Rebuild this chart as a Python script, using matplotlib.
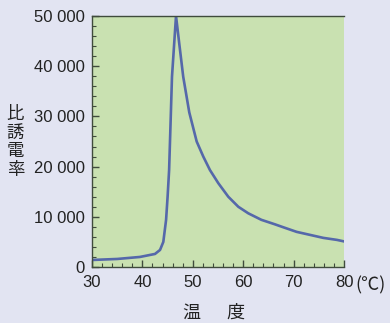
import matplotlib.pyplot as plt
from matplotlib.ticker import MultipleLocator, FuncFormatter

# temperature (deg C) vs relative permittivity
temp = [30, 35, 39.5, 42.5, 43.5, 44.15, 44.7, 45.0, 45.3, 45.87, 46.67, 47.3,
        48.1, 49.3, 50.77, 52.08, 53.41, 55.06, 57.04, 59.03, 61.0, 63.6, 66.3,
        68.0, 70.6, 73.25, 75.9, 78.6, 80]
eps = [1400, 1600, 2000, 2600, 3400, 5000, 9400, 14000, 19300, 37900, 50000, 44600,
       37900, 30800, 25000, 22000, 19300, 16700, 14000, 12000, 10700, 9400, 8500,
       7900, 7000, 6400, 5800, 5400, 5100]

bg = "#e2e4f2"
green = "#c9e1b1"
line_col = "#5568aa"
spine_col = "#3f4b3c"

plt.rcParams['font.family'] = ['Liberation Sans', 'Noto Sans CJK JP', 'DejaVu Sans']

fig = plt.figure(figsize=(3.9, 3.23), dpi=100, facecolor=bg)
ax = fig.add_axes([92/390, 1 - 267/323, 252/390, 251/323])
ax.set_facecolor(green)

ax.plot(temp, eps, color=line_col, lw=1.9, solid_joinstyle='round')

ax.set_xlim(30, 80)
ax.set_ylim(0, 50000)
ax.xaxis.set_major_locator(MultipleLocator(10))
ax.xaxis.set_minor_locator(MultipleLocator(2))
ax.yaxis.set_major_locator(MultipleLocator(10000))
ax.yaxis.set_minor_locator(MultipleLocator(2000))
ax.yaxis.set_major_formatter(FuncFormatter(lambda v, p: f"{int(v):,}".replace(",", " ")))

ax.tick_params(which='both', direction='in', color=spine_col, labelsize=12, labelcolor='#222222')
ax.tick_params(which='major', length=5, width=1)
ax.tick_params(which='minor', length=3, width=0.8)
ax.tick_params(axis='x', pad=6)
ax.tick_params(axis='y', pad=5)

for s in ['left', 'bottom', 'top']:
    ax.spines[s].set_color(spine_col)
    ax.spines[s].set_linewidth(1)
ax.spines['right'].set_visible(False)

cjk = ['Noto Sans CJK JP', 'DejaVu Sans']
fig.text(15.5/390, 1 - 142/323, "比\n誘\n電\n率", family=cjk, fontsize=12.5,
         ha='center', va='center', linespacing=1.05, color='#222222')
fig.text(191.5/390, 1 - 313/323, "温", family=cjk, fontsize=13,
         ha='center', va='center', color='#222222')
fig.text(235/390, 1 - 313/323, "度", family=cjk, fontsize=13,
         ha='center', va='center', color='#222222')
fig.text(355/390, 1 - 285/323, "(℃)", family=cjk, fontsize=13,
         ha='left', va='center', color='#222222')

fig.savefig("out.png", dpi=100, facecolor=bg)
